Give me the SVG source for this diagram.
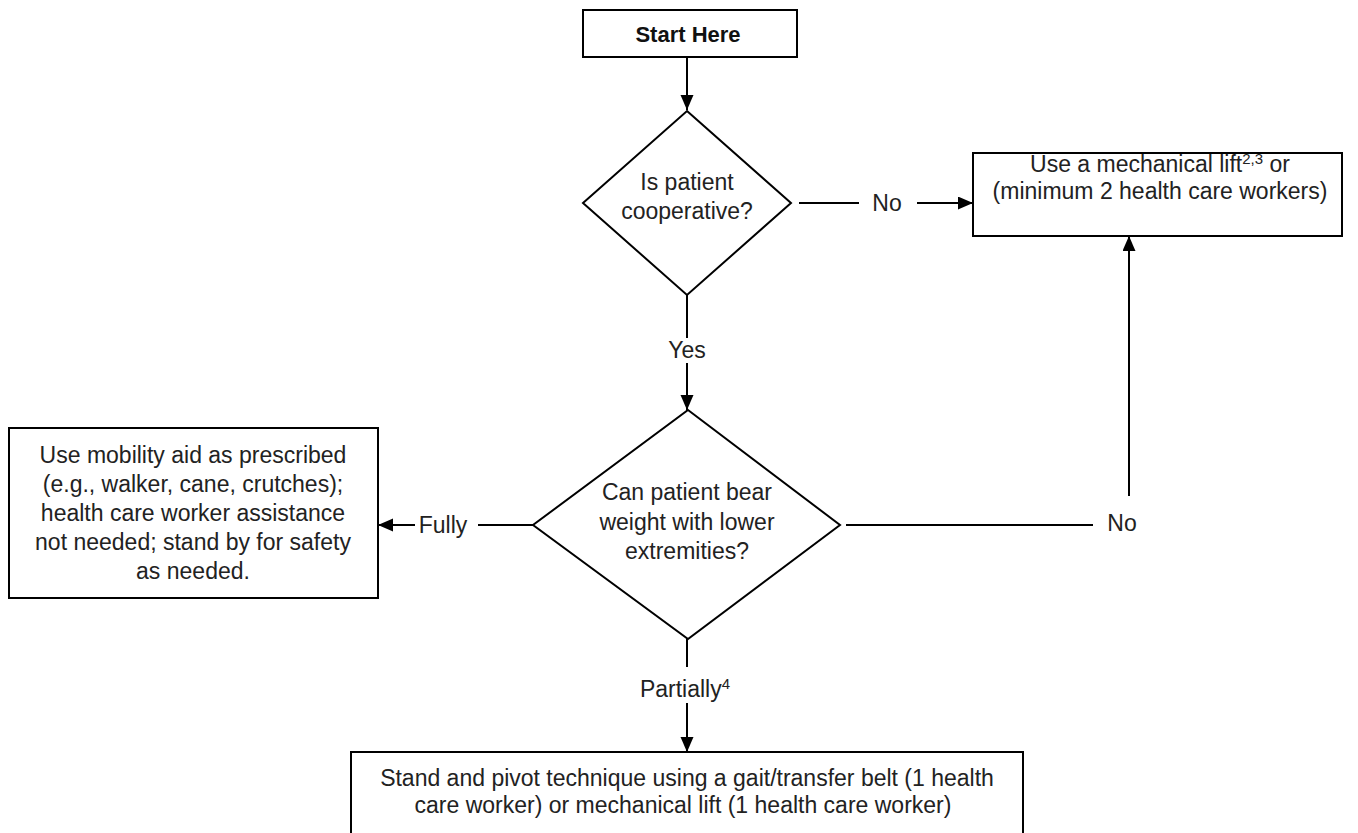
<svg xmlns="http://www.w3.org/2000/svg" width="1358" height="833" viewBox="0 0 1358 833">
<style>
.shape{fill:#fff;stroke:#000;stroke-width:2}
.ln{stroke:#000;stroke-width:2;fill:none}
.t{font-family:"Liberation Sans",Arial,sans-serif;font-size:23px;fill:#222;text-anchor:middle}
.b{font-weight:bold;fill:#111}
.sup{font-size:15px}
</style>
<defs>
<marker id="ah" markerUnits="userSpaceOnUse" markerWidth="16" markerHeight="14" refX="15" refY="6.5" orient="auto">
<path d="M0,0 L15,6.5 L0,13 z" fill="#000"/>
</marker>
</defs>
<rect width="1358" height="833" fill="#fff"/>
<g id="connectors">
<line class="ln" x1="687" y1="57" x2="687" y2="110" marker-end="url(#ah)"/>
<line class="ln" x1="799" y1="203" x2="859" y2="203"/>
<line class="ln" x1="917" y1="203" x2="973" y2="203" marker-end="url(#ah)"/>
<text class="t" x="887" y="211">No</text>
<line class="ln" x1="687" y1="295" x2="687" y2="338"/>
<line class="ln" x1="687" y1="363" x2="687" y2="410" marker-end="url(#ah)"/>
<text class="t" x="687" y="358">Yes</text>
<line class="ln" x1="533" y1="525" x2="478" y2="525"/>
<line class="ln" x1="415" y1="525" x2="378" y2="525" marker-end="url(#ah)"/>
<text class="t" x="443" y="533">Fully</text>
<line class="ln" x1="846" y1="525" x2="1093" y2="525"/>
<line class="ln" x1="1129" y1="496" x2="1129" y2="236" marker-end="url(#ah)"/>
<text class="t" x="1122" y="531">No</text>
<line class="ln" x1="687" y1="639" x2="687" y2="667"/>
<line class="ln" x1="687" y1="703" x2="687" y2="752" marker-end="url(#ah)"/>
<text class="t" x="685" y="697">Partially<tspan class="sup" baseline-shift="super">4</tspan></text>
</g>
<g id="start">
<rect class="shape" x="583" y="10" width="214" height="47"/>
<text class="t b" x="688" y="42" style="font-size:22px">Start Here</text>
</g>
<g id="decision1">
<polygon class="shape" points="687,111 791,203 687,295 583,203"/>
<text class="t" x="687" y="190">Is patient</text>
<text class="t" x="687" y="219">cooperative?</text>
</g>
<g id="lift">
<rect class="shape" x="973" y="153" width="369" height="83"/>
<text class="t" x="1160" y="172">Use a mechanical lift<tspan class="sup" baseline-shift="super">2,3</tspan> or</text>
<text class="t" x="1160" y="199">(minimum 2 health care workers)</text>
</g>
<g id="decision2">
<polygon class="shape" points="688,410 840,525 688,639 533,525"/>
<text class="t" x="687" y="500">Can patient bear</text>
<text class="t" x="687" y="530">weight with lower</text>
<text class="t" x="687" y="559">extremities?</text>
</g>
<g id="mobility">
<rect class="shape" x="9" y="428" width="369" height="170"/>
<text class="t" x="193" y="463">Use mobility aid as prescribed</text>
<text class="t" x="193" y="492">(e.g., walker, cane, crutches);</text>
<text class="t" x="193" y="521">health care worker assistance</text>
<text class="t" x="193" y="550">not needed; stand by for safety</text>
<text class="t" x="193" y="579">as needed.</text>
</g>
<g id="pivot">
<rect class="shape" x="351" y="752" width="672" height="100"/>
<text class="t" x="687" y="786">Stand and pivot technique using a gait/transfer belt (1 health</text>
<text class="t" x="683" y="813">care worker) or mechanical lift (1 health care worker)</text>
</g>
</svg>
